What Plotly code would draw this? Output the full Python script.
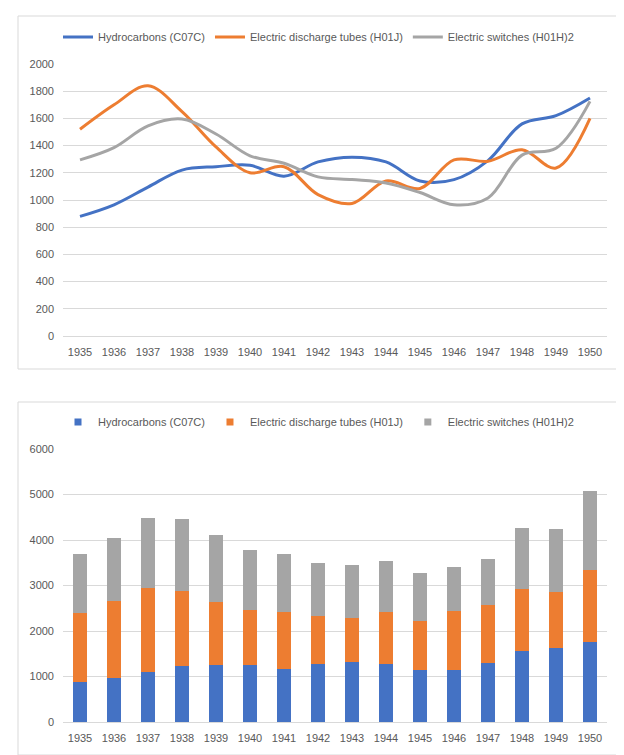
import plotly.graph_objects as go

years = [1935, 1936, 1937, 1938, 1939, 1940, 1941, 1942, 1943, 1944, 1945, 1946, 1947, 1948, 1949, 1950]
hydrocarbons = [880, 965, 1095, 1220, 1245, 1255, 1175, 1280, 1315, 1280, 1140, 1150, 1290, 1560, 1620, 1750]
discharge_tubes = [1520, 1700, 1840, 1650, 1390, 1200, 1245, 1040, 975, 1140, 1085, 1295, 1285, 1370, 1235, 1600]
switches = [1295, 1385, 1545, 1595, 1485, 1325, 1270, 1170, 1150, 1125, 1055, 965, 1015, 1330, 1380, 1725]

names = ["Hydrocarbons (C07C)", "Electric discharge tubes (H01J)", "Electric switches (H01H)2"]
colors = ["#4472C4", "#ED7D31", "#A5A5A5"]
series = [hydrocarbons, discharge_tubes, switches]

W, H = 624, 755
def px(x):
    return x / W
def py(y):
    return 1 - y / H

FONT = "Liberation Sans, Arial, sans-serif"
TXT = "#595959"
GRID = "#D9D9D9"

fig = go.Figure()
for name, col, vals in zip(names, colors, series):
    fig.add_trace(go.Scatter(x=years, y=vals, name=name, mode="lines",
                             line=dict(color=col, width=3, shape="spline", smoothing=1.0),
                             xaxis="x", yaxis="y", legend="legend", hoverinfo="skip"))
for name, col, vals in zip(names, colors, series):
    fig.add_trace(go.Bar(x=years, y=vals, name=name, marker=dict(color=col, line=dict(width=0)),
                         xaxis="x2", yaxis="y2", showlegend=False, hoverinfo="skip"))
# legend entries for the stacked bars (small square swatches, as in the original)
for name, col in zip(names, colors):
    fig.add_trace(go.Scatter(x=[None], y=[None], name=name, mode="markers",
                             marker=dict(symbol="square", size=7, color=col),
                             xaxis="x2", yaxis="y2", legend="legend2", hoverinfo="skip"))

axis_common = dict(showgrid=False, zeroline=False, ticks="", showline=True, linecolor=GRID, linewidth=1,
                   tickfont=dict(family=FONT, size=11, color=TXT), tickmode="array",
                   tickvals=years, ticktext=[str(y) for y in years], range=[1934.5, 1950.5],
                   ticklabelstandoff=6, fixedrange=True, automargin=False)
yaxis_common = dict(showgrid=True, gridcolor=GRID, gridwidth=1, zeroline=False, ticks="", showline=False,
                    tickfont=dict(family=FONT, size=11, color=TXT), ticklabelstandoff=8, fixedrange=True,
                    automargin=False)

fig.update_layout(
    width=W, height=H, margin=dict(l=0, r=0, t=0, b=0, autoexpand=False),
    paper_bgcolor="white", plot_bgcolor="white",
    barmode="stack", bargap=0.6,
    font=dict(family=FONT, size=11, color=TXT),
    xaxis=dict(domain=[px(55), px(599)], anchor="y", **axis_common),
    yaxis=dict(domain=[py(328), py(56)], anchor="x", range=[0, 2000], dtick=200, **yaxis_common),
    xaxis2=dict(domain=[px(55), px(599)], anchor="y2", **axis_common),
    yaxis2=dict(domain=[py(714), py(441)], anchor="x2", range=[0, 6000], dtick=1000, **yaxis_common),
    legend=dict(orientation="h", xref="container", yref="container", x=px(50), y=py(29),
                xanchor="left", yanchor="middle", traceorder="normal",
                font=dict(family=FONT, size=11, color=TXT), bgcolor="rgba(0,0,0,0)",
                itemclick=False, itemdoubleclick=False),
    legend2=dict(orientation="h", xref="container", yref="container", x=px(50), y=py(414),
                 xanchor="left", yanchor="middle", traceorder="normal",
                 font=dict(family=FONT, size=11, color=TXT), bgcolor="rgba(0,0,0,0)",
                 itemclick=False, itemdoubleclick=False),
    shapes=[
        dict(type="rect", xref="paper", yref="paper", x0=px(10), x1=px(616), y0=py(361), y1=py(8),
             line=dict(color=GRID, width=1), fillcolor="rgba(0,0,0,0)", layer="below"),
        dict(type="rect", xref="paper", yref="paper", x0=px(10), x1=px(616), y0=py(747), y1=py(394),
             line=dict(color=GRID, width=1), fillcolor="rgba(0,0,0,0)", layer="below"),
    ],
)

fig.write_html("out.html")
